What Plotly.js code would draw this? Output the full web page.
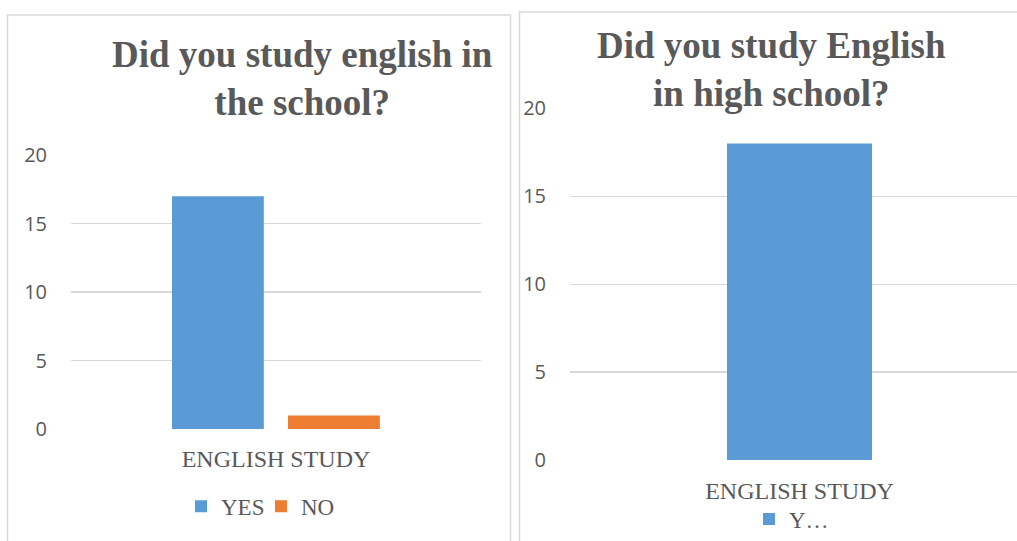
<!DOCTYPE html>
<html>
<head>
<meta charset="utf-8">
<script src="https://cdn.plot.ly/plotly-3.0.1.min.js"></script>
<style>html,body{margin:0;padding:0;background:#fff;}#chart{width:1017px;height:541px;}</style>
</head>
<body>
<div id="chart"></div>
<script>
// Data
const categories = ["ENGLISH STUDY"];
const leftTitle = "Did you study english in<br>the school?";
const rightTitle = "Did you study English<br>in high school?";
const leftYes = [17];
const leftNo = [1];
const rightYes = [18];
const leftSeriesNames = ["YES", "NO"];
const rightSeriesName = "Y…";
const yTicks = [0, 5, 10, 15, 20];

const W = 1017, H = 541;
const px = v => v / W;
const py = v => (H - v) / H;

const BLUE = "#5b9bd5", ORANGE = "#ed7d31", GREY = "#595959", GRID = "#d9d9d9";
const serif = "Liberation Serif, Times New Roman, serif";
const sans = "Open Sans, Noto Sans, sans-serif";

const traces = [
  {type: "bar", x: categories, y: leftYes, name: leftSeriesNames[0], marker: {color: BLUE},
   xaxis: "x", yaxis: "y", width: 0.224, offset: -0.2537, legend: "legend", hoverinfo: "y"},
  {type: "bar", x: categories, y: leftNo, name: leftSeriesNames[1], marker: {color: ORANGE},
   xaxis: "x", yaxis: "y", width: 0.224, offset: 0.0293, legend: "legend", hoverinfo: "y"},
  {type: "bar", x: categories, y: rightYes, name: rightSeriesName, marker: {color: BLUE},
   xaxis: "x2", yaxis: "y2", width: 0.316, offset: -0.158, legend: "legend2", hoverinfo: "y"}
];

const yax = (domain, anchor) => ({
  domain: domain, range: [0, 20], tickvals: yTicks, ticktext: yTicks.map(String),
  showgrid: true, gridcolor: GRID, gridwidth: 1.3, zeroline: false, showline: false,
  tickfont: {family: sans, size: 20, color: GREY}, ticklabelstandoff: 23, anchor: anchor, fixedrange: true
});
const xax = (domain, range, anchor, standoff) => ({
  domain: domain, range: range, type: "category", showgrid: false, zeroline: false, showline: false,
  tickfont: {family: serif, size: 24, color: GREY}, ticklabelstandoff: standoff, anchor: anchor, fixedrange: true
});

const layout = {
  width: W, height: H,
  margin: {l: 0, r: 0, t: 0, b: 0},
  paper_bgcolor: "#fff", plot_bgcolor: "rgba(0,0,0,0)",
  showlegend: true,
  xaxis: xax([px(71), px(481)], [-0.5, 0.5], "y", 13),
  yaxis: yax([py(431.5), py(156)], "x"),
  xaxis2: xax([px(570), 1], [-0.5, 0.4739], "y2", 14),
  yaxis2: yax([py(462.5), py(109)], "x2"),
  legend: {orientation: "h", x: px(181), xanchor: "left", y: py(509), yanchor: "middle",
           font: {family: serif, size: 23, color: GREY}, bgcolor: "rgba(0,0,0,0)", itemwidth: 30,
           entrywidth: 35, entrywidthmode: "pixels",
           itemclick: false, itemdoubleclick: false},
  legend2: {orientation: "h", x: px(749), xanchor: "left", y: py(522), yanchor: "middle",
            font: {family: serif, size: 23, color: GREY}, bgcolor: "rgba(0,0,0,0)", itemwidth: 30,
            itemclick: false, itemdoubleclick: false},
  annotations: [
    {text: "<b>" + leftTitle + "</b>", xref: "paper", yref: "paper", x: px(302.5), y: py(78.5),
     xanchor: "center", yanchor: "middle", showarrow: false, align: "center",
     font: {family: serif, size: 37, color: GREY}},
    {text: "<b>" + rightTitle + "</b>", xref: "paper", yref: "paper", x: px(771.5), y: py(69.5),
     xanchor: "center", yanchor: "middle", showarrow: false, align: "center",
     font: {family: serif, size: 37, color: GREY}}
  ],
  shapes: [
    {type: "rect", xref: "paper", yref: "paper", x0: px(7.5), x1: px(510.5), y0: -0.05, y1: py(15),
     line: {color: GRID, width: 1.5}, fillcolor: "rgba(0,0,0,0)", layer: "below"},
    {type: "rect", xref: "paper", yref: "paper", x0: px(519.5), x1: 1.05, y0: -0.05, y1: py(12),
     line: {color: GRID, width: 1.5}, fillcolor: "rgba(0,0,0,0)", layer: "below"}
  ]
};

Plotly.newPlot("chart", traces, layout, {displayModeBar: false, staticPlot: true});
</script>
</body>
</html>
